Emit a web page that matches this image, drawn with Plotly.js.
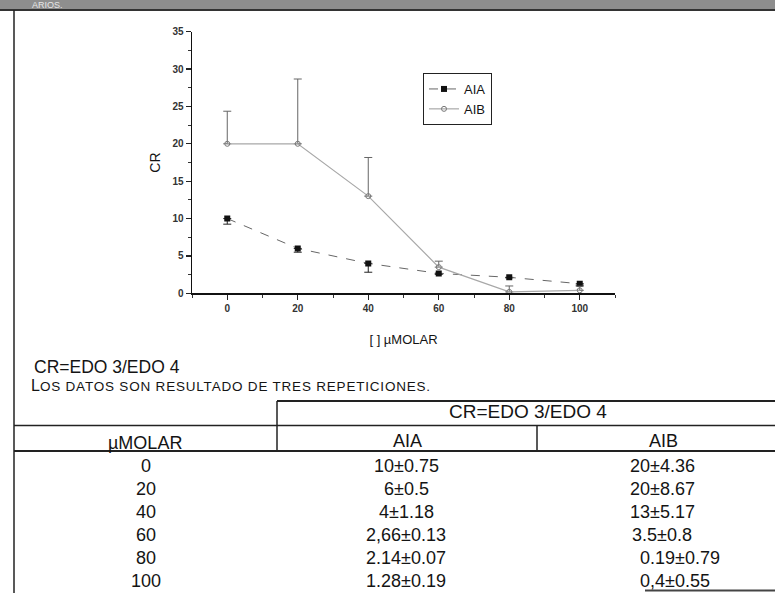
<!DOCTYPE html>
<html>
<head>
<meta charset="utf-8">
<script src="https://cdn.plot.ly/plotly-3.0.1.min.js"></script>
<style>
  html, body { margin:0; padding:0; background:#fff; }
  #chart { width:775px; height:593px; }
</style>
</head>
<body>
<div id="chart"></div>
<script>
const concentrations = [0, 20, 40, 60, 80, 100];
const aiaMean = [10, 6, 4, 2.66, 2.14, 1.28];
const aiaErr  = [0.75, 0.5, 1.18, 0.13, 0.07, 0.19];
const aibMean = [20, 20, 13, 3.5, 0.19, 0.4];
const aibErr  = [4.36, 8.67, 5.17, 0.8, 0.79, 0.55];
const rowLabels = ["0", "20", "40", "60", "80", "100"];
const aiaLabels = ["10±0.75", "6±0.5", "4±1.18", "2,66±0.13", "2.14±0.07", "1.28±0.19"];
const aibLabels = ["20±4.36", "20±8.67", "13±5.17", "3.5±0.8", "0.19±0.79", "0,4±0.55"];
const xTicks = [0, 20, 40, 60, 80, 100];
const yTicks = [0, 5, 10, 15, 20, 25, 30, 35];

// ---- page geometry helpers (pixel -> paper) ----
const W = 775, H = 593;
const X = p => p / W;
const Y = p => 1 - p / H;
const FONT = '"Liberation Sans", Arial, Helvetica, sans-serif';
const INK = '#141414';

const none = concentrations.map(() => 0);

const traces = [
  {
    name: 'AIA', x: concentrations, y: aiaMean, mode: 'lines+markers', type: 'scatter',
    line: { color: '#666', width: 1, dash: 'dash' },
    marker: { symbol: 'square', size: 6, color: '#111' },
    error_y: { type: 'data', symmetric: false, array: none, arrayminus: aiaErr,
               color: '#222', thickness: 1, width: 4 }
  },
  {
    name: 'AIB', x: concentrations, y: aibMean, mode: 'lines+markers', type: 'scatter',
    line: { color: '#a8a8a8', width: 1.2 },
    marker: { symbol: 'circle-open', size: 5, color: '#777', line: { width: 1, color: '#777' } },
    error_y: { type: 'data', symmetric: false, array: aibErr, arrayminus: none,
               color: '#666', thickness: 1, width: 4 }
  }
];

// ---- table & page decorations ----
const L = (x0, y0, x1, y1, w, c) => ({ type: 'line', xref: 'paper', yref: 'paper',
  x0: X(x0), x1: X(x1), y0: Y(y0), y1: Y(y1), line: { color: c || '#222', width: w } });
const shapes = [
  { type: 'rect', xref: 'paper', yref: 'paper', x0: X(0), x1: X(W), y0: Y(0), y1: Y(10),
    fillcolor: '#8e8e8e', line: { width: 0 }, layer: 'below' },
  L(0, 10, W, 10, 2, '#333'),
  L(14, 10, 14, H, 1.5),
  // table rules
  L(277, 401, W, 401, 2),
  L(277, 401, 277, 451, 1.5),
  L(14, 425.5, W, 425.5, 1.5),
  L(537, 425.5, 537, 451, 1.5),
  L(14, 451, W, 451, 1.8),
  L(645, 590.5, W, 590.5, 2, '#444')
];

const ann = (text, px, py, size, opts = {}) => Object.assign({
  text, xref: 'paper', yref: 'paper', x: X(px), y: Y(py), showarrow: false,
  xanchor: 'center', yanchor: 'middle', font: { family: FONT, size, color: INK }
}, opts);

const aibShift = [0, 0, 0, 0, 18, 13];
const annotations = [
  ann('ARIOS.', 30, 5, 9, { xanchor: 'left', font: { family: FONT, size: 9, color: '#e6e6e6' } }),
  ann('CR=EDO 3/EDO 4', 32, 367, 17.5, { xanchor: 'left' }),
  ann('L<span style="font-size:13.5px;letter-spacing:0.8px">OS DATOS SON RESULTADO DE TRES REPETICIONES.</span>',
      29, 385, 16, { xanchor: 'left' }),
  ann('CR=EDO 3/EDO 4', 528, 411.5, 19),
  ann('µMOLAR', 145, 443, 18),
  ann('AIA', 407, 441, 18),
  ann('AIB', 663, 441, 18)
];
rowLabels.forEach((t, i) => {
  const py = 466 + i * 23;
  annotations.push(ann(t, 146, py, 18));
  annotations.push(ann(aiaLabels[i], 406, py, 18));
  annotations.push(ann(aibLabels[i], 662 + aibShift[i], py, 18));
});

const layout = {
  width: W, height: H,
  margin: { l: 0, r: 0, t: 0, b: 0, pad: 0 },
  paper_bgcolor: '#fff', plot_bgcolor: 'rgba(0,0,0,0)',
  font: { family: FONT, color: INK },
  showlegend: true,
  legend: {
    x: X(423), y: Y(73), xanchor: 'left', yanchor: 'top',
    bgcolor: '#fff', bordercolor: '#222', borderwidth: 1,
    font: { family: FONT, size: 13, color: INK }, tracegroupgap: 0
  },
  xaxis: {
    domain: [X(192), X(615)], range: [-10, 110],
    tickvals: xTicks, ticktext: xTicks.map(String),
    ticks: 'outside', ticklen: 5, tickwidth: 1.2, tickcolor: '#222',
    minor: { dtick: 10, tick0: 0, ticks: 'outside', ticklen: 3, tickcolor: '#333', tickwidth: 1 },
    showline: true, linecolor: '#111', linewidth: 1.5,
    showgrid: false, zeroline: false,
    tickfont: { family: FONT, size: 10, color: '#333', weight: 'bold' },
    title: { text: '[ ] µMOLAR', font: { family: FONT, size: 13, color: INK }, standoff: 22 }
  },
  yaxis: {
    domain: [Y(293.3), Y(31.7)], range: [0, 35],
    tickvals: yTicks, ticktext: yTicks.map(String),
    ticks: 'outside', ticklen: 5, tickwidth: 1.2, tickcolor: '#222',
    minor: { dtick: 2.5, tick0: 0, ticks: 'outside', ticklen: 3, tickcolor: '#333', tickwidth: 1 },
    showline: true, linecolor: '#111', linewidth: 1.5,
    showgrid: false, zeroline: false,
    tickfont: { family: FONT, size: 10, color: '#333', weight: 'bold' },
    title: { text: 'CR', font: { family: FONT, size: 14, color: INK }, standoff: 8 }
  },
  shapes, annotations
};

Plotly.newPlot('chart', traces, layout, { displayModeBar: false, staticPlot: true });
</script>
</body>
</html>
